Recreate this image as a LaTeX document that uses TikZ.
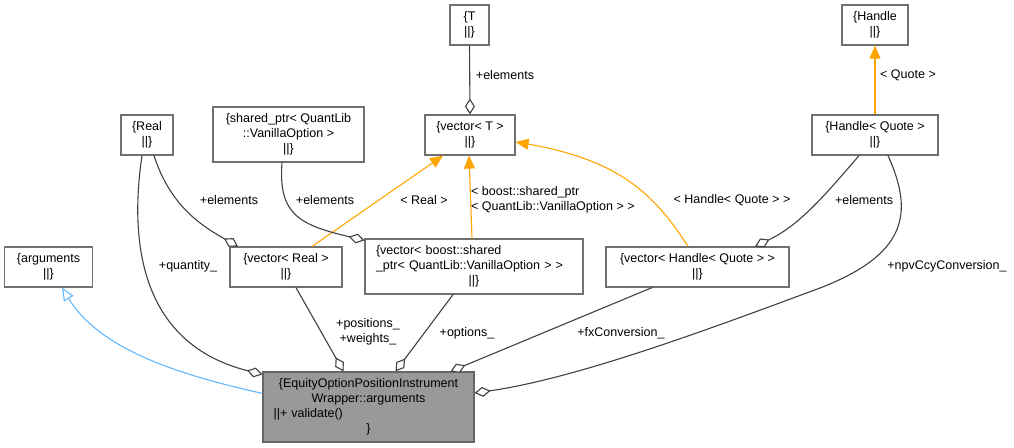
\documentclass[tikz,border=0pt]{standalone}
\usepackage{fontspec}
\setmainfont{Liberation Sans}
\usetikzlibrary{arrows.meta}

\definecolor{edgegray}{HTML}{404040}
\definecolor{boxgray}{HTML}{707070}
\definecolor{tplorange}{HTML}{FFA500}
\definecolor{baseblue}{HTML}{63B8FF}
\definecolor{mainfill}{HTML}{999999}
\definecolor{mainline}{HTML}{666666}
\newcommand{\dxfont}{\fontsize{12.5}{15}\selectfont}

\begin{document}
\begin{tikzpicture}[x=1pt, y=-1pt,
  class node/.style={draw=boxgray, line width=1.2pt, fill=white, inner sep=0pt, align=center, font=\dxfont},
  main class/.style={class node, draw=mainline, fill=mainfill},
  member/.style={draw=edgegray, line width=1.1pt, -{Diamond[fill=white, length=16pt, width=10pt]}},
  tmpl/.style={draw=tplorange, line width=1.1pt, -{Triangle[length=13pt, width=11pt]}},
  base/.style={draw=baseblue, line width=1.1pt, -{Triangle[open, fill=white, length=13pt, width=11pt]}},
  lbl/.style={font=\dxfont, inner sep=0pt, align=center}]
\useasboundingbox (0,0) rectangle (1014,447);

% classes
\node[class node, minimum width=39pt, minimum height=40pt]  (t)       at (469.5,25)  {\{T\\||\}};
\node[class node, minimum width=66pt, minimum height=40pt]  (handle)  at (875,25)    {\{Handle\\||\}};
\node[class node, minimum width=90pt, minimum height=40pt]  (vect)    at (470,135)   {\{vector< T >\\||\}};
\node[class node, minimum width=52pt, minimum height=40pt]  (real)    at (147,135)   {\{Real\\||\}};
\node[class node, minimum width=151pt, minimum height=55pt] (sptr)    at (288.5,134.5) {\{shared\_ptr< QuantLib\\::VanillaOption >\\||\}};
\node[class node, minimum width=126pt, minimum height=40pt] (hquote)  at (875,135)   {\{Handle< Quote >\\||\}};
\node[class node, minimum width=88pt, minimum height=40pt]  (args)    at (48.5,267)  {\{arguments\\||\}};
\node[class node, minimum width=112pt, minimum height=40pt] (vecreal) at (286,267)   {\{vector< Real >\\||\}};
\node[class node, minimum width=218pt, minimum height=55pt, text width=196pt, align=left] (vecsptr) at (474,266.5)
  {\{vector< boost::shared\\\_ptr< QuantLib::VanillaOption > >\\\makebox[\linewidth]{||\}}};
\node[class node, minimum width=183pt, minimum height=40pt] (vechq)   at (697.5,267) {\{vector< Handle< Quote > >\\||\}};
\node[main class, minimum width=211pt, minimum height=70pt, text width=190pt, align=left] (wrapper) at (368.5,407)
  {\makebox[\linewidth]{\{EquityOptionPositionInstrument}\\\makebox[\linewidth]{Wrapper::arguments}\\||+ validate()\\\makebox[\linewidth]{\}}};

% template instances
\draw[tmpl] (hquote.north) -- (handle.south);
\draw[tmpl] ([xshift=26pt]vecreal.north) -- ([xshift=-27pt]vect.south);
\draw[tmpl] ([xshift=-2pt]vecsptr.north) -- ([xshift=-1pt]vect.south);
\draw[tmpl] ([xshift=-9.5pt]vechq.north) .. controls (655,195) and (620,160) .. ([yshift=-7pt]vect.east);

% members
\draw[member] (t.south) -- (vect.north);
\draw[member] ([xshift=7pt]real.south) .. controls (170,205) and (200,225) .. ([xshift=-48pt]vecreal.north);
\draw[member] ([xshift=-6.5pt]sptr.south) .. controls (278,215) and (300,225) .. ([yshift=-2pt]vecsptr.north west);
\draw[member] ([xshift=-16pt]hquote.south) .. controls (825,195) and (800,225) .. ([xshift=57.5pt]vechq.north);
\draw[member] ([xshift=-5pt]real.south) .. controls (128,250) and (145,345) .. ([yshift=-3pt]wrapper.north west);
\draw[member] ([xshift=13pt]hquote.south) .. controls (915,215) and (905,255) .. (820,288)
  .. controls (720,325) and (580,378) .. ([yshift=14pt]wrapper.east);
\draw[member] ([xshift=10pt]vecreal.south) -- ([xshift=-25pt]wrapper.north);
\draw[member] ([xshift=-21pt]vecsptr.south) -- ([xshift=27pt]wrapper.north);
\draw[member] ([xshift=-45.5pt]vechq.south) -- ([xshift=82pt]wrapper.north);

% base class
\draw[base] ([yshift=-22pt]wrapper.north west) .. controls (180,375) and (100,350) .. ([xshift=13.5pt]args.south);

% labels
\node[lbl] (l-t)       at (505,75)  {+elements};
\node[lbl] (l-quote)   at (908,75)  {< Quote >};
\node[lbl] (l-real)    at (229,200) {+elements};
\node[lbl] (l-sptr)    at (325,200) {+elements};
\node[lbl] (l-treal)   at (424,200) {< Real >};
\node[lbl, anchor=west, align=left] (l-tsptr) at (471,200) {< boost::shared\_ptr\\< QuantLib::VanillaOption > >};
\node[lbl] (l-thq)     at (732,200) {< Handle< Quote > >};
\node[lbl] (l-hq)      at (864,200) {+elements};
\node[lbl] (l-qty)     at (188,266) {+quantity\_};
\node[lbl] (l-npv)     at (947,266) {+npvCcyConversion\_};
\node[lbl] (l-pos)     at (368,332) {+positions\_\\+weights\_};
\node[lbl] (l-opt)     at (467,333) {+options\_};
\node[lbl] (l-fx)      at (621,333) {+fxConversion\_};
\end{tikzpicture}
\end{document}
